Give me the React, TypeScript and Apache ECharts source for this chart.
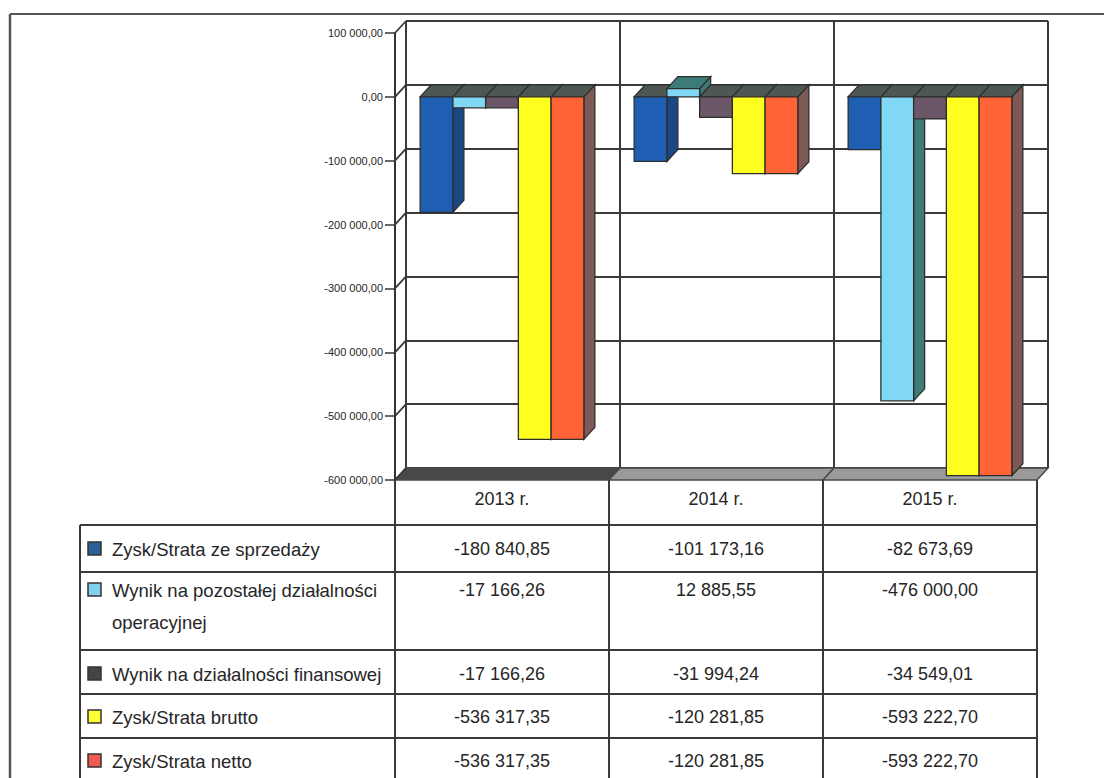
import React, { useEffect, useRef } from "react";
import * as echarts from "echarts";

// ---- data ----
const categories = ["2013 r.", "2014 r.", "2015 r."];
const seriesNames = [
  "Zysk/Strata ze sprzedaży",
  "Wynik na pozostałej działalności operacyjnej",
  "Wynik na działalności finansowej",
  "Zysk/Strata brutto",
  "Zysk/Strata netto",
];
const rowLabelLines = [
  ["Zysk/Strata ze sprzedaży"],
  ["Wynik na pozostałej działalności", "operacyjnej"],
  ["Wynik na działalności finansowej"],
  ["Zysk/Strata brutto"],
  ["Zysk/Strata netto"],
];
const sprzedaz = [-180840.85, -101173.16, -82673.69];
const pozostala = [-17166.26, 12885.55, -476000.0];
const finansowa = [-17166.26, -31994.24, -34549.01];
const brutto = [-536317.35, -120281.85, -593222.7];
const netto = [-536317.35, -120281.85, -593222.7];
const yTicks = [100000, 0, -100000, -200000, -300000, -400000, -500000, -600000];
const Y_MIN = -600000;
const Y_MAX = 100000;
const Y_STEP = 100000;

// ---- style / layout ----
const FONT = '"Liberation Sans", Arial, sans-serif';
const TEXT = "#262626";
const frontColors = ["#1f5fb3", "#80d8f6", "#6b5767", "#ffff1f", "#ff6336"];
const sideColors = ["#1a4785", "#3e7b78", "#4d3f47", "#9a9a20", "#7d5a55"];
const topNeg = "#4d5855";
const markerColors = ["#2c5f95", "#80d0ee", "#444444", "#ffff33", "#f05a50"];
const LINE = "#3a3a3a";
const DX = 11;
const DY = 12;
const G = { left: 395, top: 33, width: 642, height: 447 };
const BAR_FRAC = 0.153;
const ROW_LINES = [525, 572, 650, 694, 738];
const ROW_Y = [549, 590, 674, 717, 761];
const TABLE_LEFT = 80;
const PAGE_BOTTOM = 778;

function fmt(v: number): string {
  const neg = v < 0;
  const s = Math.abs(v).toFixed(2);
  const [i, d] = s.split(".");
  const g = i.replace(/\B(?=(\d{3})+(?!\d))/g, " ");
  return (neg ? "-" : "") + g + "," + d;
}

export default function App() {
  const ref = useRef<HTMLDivElement>(null);
  useEffect(() => {
    const chart = echarts.init(ref.current!, null, { renderer: "svg" });
    const valueSeries = [sprzedaz, pozostala, finansowa, brutto, netto];
    const nS = valueSeries.length;

    const barSeries = valueSeries.map((vals, si) => ({
      type: "custom",
      name: seriesNames[si],
      xAxisIndex: 0,
      yAxisIndex: 0,
      clip: false,
      z: 5,
      data: vals.map((v, ci) => [ci, v]),
      renderItem: (params: any, api: any) => {
        const ci = api.value(0);
        const v = api.value(1);
        const p0 = api.coord([ci, 0]);
        const pv = api.coord([ci, v]);
        const band = api.size([1, 0])[0];
        const w = band * BAR_FRAC;
        const x = p0[0] - (w * nS) / 2 + si * w;
        const yTop = Math.min(p0[1], pv[1]);
        const yBot = Math.max(p0[1], pv[1]);
        const st = { stroke: "#2e2e2e", lineWidth: 1.3 };
        return {
          type: "group",
          children: [
            {
              type: "polygon",
              shape: { points: [[x + w, yTop], [x + w + DX, yTop - DY], [x + w + DX, yBot - DY], [x + w, yBot]] },
              style: { fill: sideColors[si], ...st },
            },
            {
              type: "polygon",
              shape: { points: [[x, yTop], [x + w, yTop], [x + w + DX, yTop - DY], [x + DX, yTop - DY]] },
              style: { fill: v > 0 ? sideColors[si] : topNeg, ...st },
            },
            {
              type: "rect",
              shape: { x, y: yTop, width: w, height: yBot - yTop },
              style: { fill: frontColors[si], ...st },
            },
          ],
        };
      },
    }));

    const floorSeries = {
      type: "custom",
      xAxisIndex: 0,
      yAxisIndex: 0,
      clip: false,
      z: 3,
      data: categories.map((_, i) => [i, Y_MIN]),
      renderItem: (params: any, api: any) => {
        const i = api.value(0);
        const p = api.coord([i, api.value(1)]);
        const band = api.size([1, 0])[0];
        const xl = p[0] - band / 2;
        const xr = p[0] + band / 2;
        const y = p[1];
        return {
          type: "polygon",
          shape: { points: [[xl, y], [xr, y], [xr + DX, y - DY], [xl + DX, y - DY]] },
          style: { fill: i === 0 ? "#484848" : "#9a9a9a", stroke: "#4a4a4a", lineWidth: 1.5 },
        };
      },
    };

    const wallTicks = {
      type: "custom",
      xAxisIndex: 0,
      yAxisIndex: 0,
      clip: false,
      z: 3,
      data: yTicks.map((v) => [0, v]),
      renderItem: (params: any, api: any) => {
        const p = api.coord([0, api.value(1)]);
        const band = api.size([1, 0])[0];
        const xl = p[0] - band / 2;
        return {
          type: "line",
          shape: { x1: xl, y1: p[1], x2: xl + DX, y2: p[1] - DY },
          style: { stroke: LINE, lineWidth: 1.8 },
        };
      },
    };

    const tableCols = {
      type: "custom",
      xAxisIndex: 0,
      yAxisIndex: 0,
      clip: false,
      z: 3,
      data: categories.map((_, i) => [i, Y_MIN]),
      renderItem: (params: any, api: any) => {
        const i = api.value(0);
        const p = api.coord([i, api.value(1)]);
        const band = api.size([1, 0])[0];
        const xl = p[0] - band / 2;
        const xr = p[0] + band / 2;
        const children: any[] = [
          { type: "line", shape: { x1: xl, y1: p[1], x2: xl, y2: PAGE_BOTTOM }, style: { stroke: LINE, lineWidth: 2 } },
        ];
        if (i === categories.length - 1) {
          children.push({ type: "line", shape: { x1: xr, y1: p[1], x2: xr, y2: PAGE_BOTTOM }, style: { stroke: LINE, lineWidth: 2 } });
        }
        return { type: "group", children };
      },
    };

    const tableData: number[][] = [];
    valueSeries.forEach((vals, ri) => vals.forEach((v, ci) => tableData.push([ci, ri, v])));
    const tableValues = {
      type: "custom",
      xAxisIndex: 0,
      yAxisIndex: 0,
      clip: false,
      z: 4,
      data: tableData,
      renderItem: (params: any, api: any) => {
        const ci = api.value(0);
        const ri = api.value(1);
        const v = api.value(2);
        const p = api.coord([ci, 0]);
        return {
          type: "text",
          x: p[0],
          y: ROW_Y[ri],
          style: {
            text: fmt(v),
            fill: TEXT,
            fontSize: 18,
            fontFamily: FONT,
            textAlign: "center",
            textVerticalAlign: "middle",
            align: "center",
            verticalAlign: "middle",
          },
        };
      },
    };

    const graphics: any[] = [
      { type: "line", shape: { x1: 10, y1: 14, x2: 1104, y2: 14 }, style: { stroke: "#555", lineWidth: 2 } },
      { type: "line", shape: { x1: 10, y1: 14, x2: 10, y2: PAGE_BOTTOM }, style: { stroke: "#555", lineWidth: 2.5 } },
      { type: "line", shape: { x1: TABLE_LEFT, y1: ROW_LINES[0], x2: TABLE_LEFT, y2: PAGE_BOTTOM }, style: { stroke: LINE, lineWidth: 2 } },
    ];
    ROW_LINES.forEach((y) => {
      graphics.push({
        type: "line",
        shape: { x1: TABLE_LEFT, y1: y, x2: G.left + G.width, y2: y },
        style: { stroke: LINE, lineWidth: 2 },
      });
    });
    rowLabelLines.forEach((lines, ri) => {
      graphics.push({
        type: "rect",
        shape: { x: 88, y: ROW_Y[ri] - 7, width: 13, height: 13 },
        style: { fill: markerColors[ri], stroke: "#333", lineWidth: 1.5 },
      });
      lines.forEach((t, li) => {
        graphics.push({
          type: "text",
          x: 112,
          y: ROW_Y[ri] + li * 32,
          style: {
            text: t,
            fill: TEXT,
            fontSize: 18.5,
            fontFamily: FONT,
            textAlign: "left",
            textVerticalAlign: "middle",
            align: "left",
            verticalAlign: "middle",
          },
        });
      });
    });

    chart.setOption({
      animation: false,
      backgroundColor: "#ffffff",
      grid: [
        { left: G.left, top: G.top, width: G.width, height: G.height, containLabel: false },
        { left: G.left + DX, top: G.top - DY, width: G.width, height: G.height, containLabel: false },
      ],
      xAxis: [
        {
          type: "category",
          gridIndex: 0,
          data: categories,
          boundaryGap: true,
          axisLine: { show: false, onZero: false },
          axisTick: { show: false },
          splitLine: { show: false },
          axisLabel: { fontSize: 18, color: TEXT, fontFamily: FONT, margin: 10 },
        },
        {
          type: "category",
          gridIndex: 1,
          data: categories,
          boundaryGap: true,
          axisLine: { show: false, onZero: false },
          axisTick: { show: false },
          axisLabel: { show: false },
          splitLine: { show: true, lineStyle: { color: LINE, width: 2 } },
        },
      ],
      yAxis: [
        {
          type: "value",
          gridIndex: 0,
          min: Y_MIN,
          max: Y_MAX,
          interval: Y_STEP,
          axisLine: { show: true, lineStyle: { color: "#333", width: 2 } },
          axisTick: { show: true, length: 10, lineStyle: { color: "#333", width: 1.5 } },
          splitLine: { show: false },
          axisLabel: { formatter: (v: number) => fmt(v), fontSize: 11, color: TEXT, fontFamily: FONT, margin: 12 },
        },
        {
          type: "value",
          gridIndex: 1,
          min: Y_MIN,
          max: Y_MAX,
          interval: Y_STEP,
          axisLine: { show: false },
          axisTick: { show: false },
          axisLabel: { show: false },
          splitLine: { show: true, lineStyle: { color: LINE, width: 2 } },
        },
      ],
      graphic: graphics,
      series: [floorSeries, wallTicks, ...barSeries, tableCols, tableValues],
    });
    return () => chart.dispose();
  }, []);
  return (
    <div
      ref={ref}
      style={{ position: "fixed", left: 0, top: 0, width: 1104, height: 778, background: "#fff" }}
    />
  );
}
